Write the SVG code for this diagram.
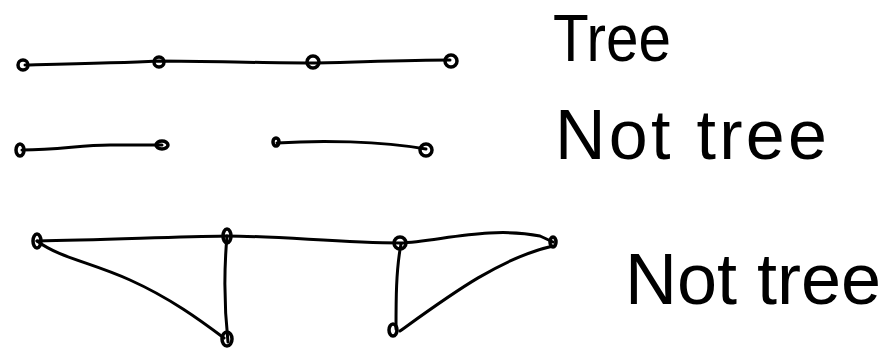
<svg xmlns="http://www.w3.org/2000/svg" width="891" height="360" viewBox="0 0 891 360">
<style>
.e{fill:none;stroke:#000;stroke-width:3;stroke-linecap:round;stroke-linejoin:round}
.n{fill:none;stroke:#000;stroke-width:3.5}
.t{font-family:"Liberation Sans",Arial,sans-serif;fill:#000;font-weight:normal}
</style>
<rect width="891" height="360" fill="#fff"/>
<g id="connectors">
<path class="e" d="M25,65 C70,64 120,63 158,61 C210,61 260,63 312,63 C360,62 410,60 450,60"/>
<path class="e" d="M22,150 C60,150 80,145 110,145 C130,145 150,145 162,145"/>
<path class="e" d="M277,143 C320,140 380,141 426,149"/>
<path class="e" d="M37,241 C100,240 170,237 226,236 C280,236 340,243 400,243 C440,241 490,226 540,236 L553,242"/>
<path class="e" d="M37,241 C60,258 90,262 130,280 C170,298 200,320 224,338"/>
<path class="e" d="M227,236 C224,270 224,305 228,342"/>
<path class="e" d="M401,244 C396,270 396,300 396,329"/>
<path class="e" d="M553,246 C500,258 450,295 400,331"/>
</g>
<g id="n1"><ellipse class="n" cx="23" cy="65" rx="5" ry="5"/></g>
<g id="n2"><ellipse class="n" cx="159" cy="62" rx="5" ry="5"/></g>
<g id="n3"><ellipse class="n" cx="313" cy="62" rx="6" ry="6"/></g>
<g id="n4"><ellipse class="n" cx="451" cy="61" rx="6" ry="6"/></g>
<g id="n5"><ellipse class="n" cx="20" cy="150" rx="4" ry="6"/></g>
<g id="n6"><ellipse class="n" cx="162" cy="145" rx="6" ry="4"/></g>
<g id="n7"><ellipse class="n" cx="276" cy="142" rx="3" ry="4"/></g>
<g id="n8"><ellipse class="n" cx="426" cy="150" rx="6" ry="6"/></g>
<g id="n9"><ellipse class="n" cx="37" cy="241" rx="4" ry="7"/></g>
<g id="n10"><ellipse class="n" cx="227" cy="236" rx="4" ry="7"/></g>
<g id="n11"><ellipse class="n" cx="400" cy="243" rx="6" ry="6"/></g>
<g id="n12"><ellipse class="n" cx="553" cy="242" rx="3" ry="5"/></g>
<g id="n13"><ellipse class="n" cx="227" cy="339" rx="5" ry="7"/></g>
<g id="n14"><ellipse class="n" cx="393" cy="330" rx="4" ry="6"/></g>
<g id="labels">
<text class="t" x="553" y="61" font-size="66" textLength="118" lengthAdjust="spacingAndGlyphs">Tree</text>
<text class="t" x="555" y="159" font-size="70" textLength="272" lengthAdjust="spacing">Not tree</text>
<text class="t" x="625" y="304" font-size="72">Not tree</text>
</g>
</svg>
